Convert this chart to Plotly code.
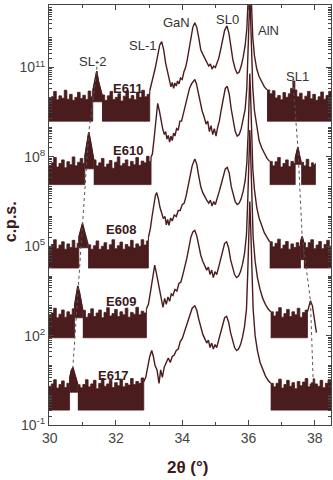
import numpy as np
import plotly.graph_objects as go

COLOR = '#4a1c1e'

# ---- data: (2theta, log10 c.p.s.) ----
E611_pts = [
    (29.98, 9.95), (30.05, 10.02), (30.12, 10.2), (30.2, 9.92), (30.28, 10.05), (30.36, 9.97), (30.44, 10.24),
    (30.52, 9.94), (30.6, 10.1), (30.68, 9.9), (30.76, 10.0), (30.84, 10.17), (30.92, 9.96), (31.0, 10.07),
    (31.08, 9.93), (31.16, 10.21), (31.24, 10.02), (31.3, 10.2),
    (31.36, 10.55), (31.42, 10.88), (31.47, 10.55), (31.52, 10.28), (31.58, 10.08),
    (31.66, 9.9), (31.74, 10.05), (31.82, 10.2), (31.9, 9.93), (31.98, 10.0), (32.06, 10.12), (32.14, 9.88),
    (32.22, 10.04), (32.3, 10.22), (32.38, 9.95), (32.46, 10.06), (32.54, 9.92), (32.62, 10.15), (32.7, 10.0),
    (32.78, 10.24), (32.86, 10.02), (32.94, 10.1), (33.02, 10.22),
    (33.1, 10.55), (33.18, 10.95), (33.26, 11.4), (33.32, 11.75), (33.38, 11.87), (33.44, 11.6), (33.5, 11.15),
    (33.56, 10.8), (33.62, 10.55), (33.66, 10.35), (33.7, 10.5), (33.74, 10.3), (33.78, 10.48), (33.82, 10.38),
    (33.86, 10.55), (33.9, 10.45), (33.95, 10.65), (34.0, 10.6), (34.05, 10.85), (34.1, 11.0), (34.15, 11.25),
    (34.2, 11.55), (34.26, 11.95), (34.32, 12.35), (34.38, 12.5), (34.44, 12.35), (34.5, 12.0), (34.56, 11.6),
    (34.62, 11.45), (34.68, 11.3), (34.74, 11.2), (34.8, 11.05), (34.85, 11.12), (34.9, 10.95), (34.95, 11.05),
    (35.0, 11.0), (35.05, 11.15), (35.1, 11.3), (35.16, 11.6), (35.22, 11.95), (35.28, 12.25), (35.35, 12.4),
    (35.41, 12.15), (35.47, 11.7), (35.53, 11.25), (35.6, 10.95), (35.66, 10.8), (35.72, 10.85), (35.78, 11.05),
    (35.84, 11.35), (35.9, 11.75), (35.95, 12.3), (35.99, 13.0), (36.02, 14.0), (36.04, 14.5), (36.06, 14.0),
    (36.09, 13.0), (36.13, 12.0), (36.18, 11.4), (36.25, 10.95), (36.32, 10.7), (36.4, 10.5), (36.48, 10.35),
    (36.56, 10.25),
    (36.64, 10.12), (36.72, 10.22), (36.8, 9.98), (36.88, 10.06), (36.96, 9.92), (37.04, 10.16), (37.12, 10.0),
    (37.2, 10.12), (37.27, 10.3), (37.34, 10.55), (37.4, 10.25), (37.46, 10.02), (37.54, 10.14), (37.62, 9.92),
    (37.7, 10.04), (37.78, 10.2), (37.86, 9.95), (37.94, 10.1), (38.02, 9.9), (38.1, 10.02), (38.18, 10.18),
    (38.26, 9.94), (38.34, 10.06), (38.42, 10.2), (38.49, 10.0),
]
E611_floor = 9.2
E611_fills = [(29.98, 31.3, 9.2), (31.3, 31.58, 9.85), (31.58, 33.02, 9.2), (36.56, 38.49, 9.2)]

E610_pts = [
    (29.98, 7.72), (30.05, 7.8), (30.12, 7.98), (30.2, 7.66), (30.28, 7.78), (30.36, 7.9), (30.44, 7.64),
    (30.52, 7.84), (30.6, 7.74), (30.68, 8.0), (30.76, 7.7), (30.84, 7.82), (30.92, 7.95), (31.0, 7.78),
    (31.06, 8.0),
    (31.12, 8.5), (31.18, 8.83), (31.23, 8.55), (31.28, 8.15), (31.33, 7.9),
    (31.4, 7.7), (31.48, 7.8), (31.56, 7.95), (31.64, 7.66), (31.72, 7.76), (31.8, 7.88), (31.88, 7.62),
    (31.96, 7.82), (32.04, 8.0), (32.12, 7.7), (32.2, 7.78), (32.28, 7.9), (32.36, 7.68), (32.44, 7.85),
    (32.52, 7.74), (32.6, 7.98), (32.68, 7.72), (32.76, 7.86), (32.84, 7.8), (32.92, 8.02), (33.0, 7.85),
    (33.06, 8.0),
    (33.1, 8.1), (33.15, 8.6), (33.2, 9.2), (33.26, 9.8), (33.31, 9.55), (33.36, 9.2), (33.41, 8.95),
    (33.46, 8.75), (33.5, 8.85), (33.54, 8.6), (33.58, 8.72), (33.62, 8.5), (33.66, 8.7), (33.7, 8.55),
    (33.74, 8.8), (33.78, 8.7), (33.83, 8.95), (33.88, 8.9), (33.93, 9.2), (33.98, 9.2), (34.04, 9.5),
    (34.1, 9.75), (34.16, 10.05), (34.22, 10.3), (34.28, 10.45), (34.33, 10.55), (34.38, 10.6), (34.43, 10.45),
    (34.49, 10.1), (34.55, 9.8), (34.6, 9.55), (34.66, 9.35), (34.72, 9.1), (34.77, 9.2), (34.82, 8.85),
    (34.87, 9.05), (34.92, 8.75), (34.97, 8.95), (35.02, 8.7), (35.07, 9.0), (35.12, 9.2), (35.18, 9.6),
    (35.24, 10.0), (35.3, 10.3), (35.36, 10.37), (35.42, 10.1), (35.48, 9.6), (35.54, 9.15), (35.6, 8.85),
    (35.66, 8.7), (35.72, 8.75), (35.78, 8.95), (35.84, 9.25), (35.9, 9.6), (35.95, 10.3), (35.99, 11.5),
    (36.02, 12.8), (36.04, 13.4), (36.06, 12.8), (36.09, 11.5), (36.13, 10.3), (36.18, 9.55), (36.25, 9.0),
    (36.32, 8.55), (36.4, 8.3), (36.48, 8.1), (36.56, 7.95), (36.64, 7.85),
    (36.72, 7.7), (36.8, 7.84), (36.88, 7.98), (36.96, 7.66), (37.04, 7.78), (37.12, 7.9), (37.2, 7.68),
    (37.28, 7.85), (37.36, 7.78), (37.41, 7.95), (37.45, 8.15), (37.49, 8.33), (37.54, 8.05), (37.59, 7.82),
    (37.66, 7.7), (37.74, 7.92), (37.82, 7.66), (37.9, 7.8), (37.96, 7.74), (38.02, 7.78),
]
E610_floor = 7.07
E610_fills = [(29.98, 31.06, 7.07), (31.06, 31.33, 7.6), (31.33, 33.06, 7.07),
              (36.64, 37.41, 7.07), (37.41, 37.59, 7.75), (37.59, 38.02, 7.07)]

E608_pts = [
    (29.98, 4.98), (30.05, 5.06), (30.12, 5.22), (30.2, 4.92), (30.28, 5.04), (30.36, 5.15), (30.44, 4.9),
    (30.52, 5.08), (30.6, 4.96), (30.68, 5.2), (30.76, 4.94), (30.83, 5.1), (30.88, 5.3),
    (30.94, 5.6), (30.99, 5.77), (31.04, 5.55), (31.1, 5.25), (31.16, 5.05),
    (31.24, 4.9), (31.32, 5.02), (31.4, 5.18), (31.48, 4.9), (31.56, 5.0), (31.64, 5.12), (31.72, 4.88),
    (31.8, 5.05), (31.88, 5.22), (31.96, 4.92), (32.04, 5.02), (32.12, 5.14), (32.2, 4.9), (32.28, 5.06),
    (32.36, 4.98), (32.44, 5.2), (32.52, 4.94), (32.6, 5.08), (32.68, 5.0), (32.76, 5.22), (32.84, 5.04),
    (32.92, 5.18), (32.98, 5.3),
    (33.04, 5.6), (33.09, 6.0), (33.14, 6.4), (33.19, 6.7), (33.23, 6.8), (33.28, 6.6), (33.33, 6.3),
    (33.38, 6.1), (33.43, 5.93), (33.48, 6.0), (33.52, 5.72), (33.56, 5.9), (33.6, 5.7), (33.65, 5.95),
    (33.7, 5.85), (33.76, 6.05), (33.82, 6.0), (33.88, 6.2), (33.94, 6.2), (34.0, 6.4), (34.06, 6.45),
    (34.12, 6.7), (34.18, 7.0), (34.24, 7.35), (34.3, 7.7), (34.38, 7.93), (34.44, 7.75), (34.5, 7.35),
    (34.56, 7.0), (34.62, 6.8), (34.68, 6.65), (34.74, 6.55), (34.8, 6.45), (34.85, 6.55), (34.9, 6.35),
    (34.95, 6.5), (35.0, 6.4), (35.06, 6.6), (35.12, 6.85), (35.18, 7.1), (35.24, 7.4), (35.3, 7.6),
    (35.36, 7.65), (35.42, 7.45), (35.48, 7.0), (35.54, 6.7), (35.6, 6.5), (35.66, 6.4), (35.72, 6.45),
    (35.78, 6.6), (35.84, 6.85), (35.9, 7.2), (35.95, 7.8), (35.99, 8.8), (36.02, 10.2), (36.04, 10.8),
    (36.06, 10.2), (36.09, 8.8), (36.13, 7.6), (36.18, 6.9), (36.25, 6.3), (36.32, 5.95), (36.4, 5.7),
    (36.48, 5.45), (36.56, 5.3), (36.64, 5.15),
    (36.72, 4.98), (36.8, 5.1), (36.88, 5.24), (36.96, 4.92), (37.04, 5.04), (37.12, 5.16), (37.2, 4.9),
    (37.28, 5.08), (37.36, 4.96), (37.44, 5.12), (37.52, 5.0), (37.57, 5.15), (37.62, 5.33), (37.67, 5.12),
    (37.72, 4.96), (37.8, 5.12), (37.88, 5.22), (37.96, 4.92), (38.04, 5.04), (38.12, 5.16), (38.2, 4.92),
    (38.28, 5.06), (38.36, 5.2), (38.44, 4.94), (38.49, 5.02),
]
E608_floor = 4.27
E608_fills = [(29.98, 30.88, 4.27), (30.88, 31.16, 4.95), (31.16, 32.98, 4.27),
              (36.64, 37.57, 4.27), (37.57, 37.67, 4.55), (37.67, 38.49, 4.27)]

E609_pts = [
    (29.98, 2.68), (30.05, 2.76), (30.12, 2.92), (30.2, 2.6), (30.28, 2.72), (30.36, 2.86), (30.44, 2.62),
    (30.52, 2.8), (30.6, 2.7), (30.68, 2.9), (30.75, 3.0),
    (30.8, 3.4), (30.85, 3.67), (30.9, 3.45), (30.95, 3.1), (31.0, 2.85),
    (31.08, 2.62), (31.16, 2.74), (31.24, 2.9), (31.32, 2.64), (31.4, 2.76), (31.48, 2.86), (31.56, 2.6),
    (31.64, 2.78), (31.72, 2.94), (31.8, 2.66), (31.88, 2.74), (31.96, 2.88), (32.04, 2.64), (32.12, 2.8),
    (32.2, 2.7), (32.28, 2.92), (32.36, 2.62), (32.44, 2.78), (32.52, 2.72), (32.6, 2.95), (32.68, 2.7),
    (32.76, 2.82), (32.84, 2.76), (32.92, 2.9),
    (32.98, 3.05), (33.04, 3.45), (33.1, 3.95), (33.17, 4.37), (33.22, 4.1), (33.27, 3.8), (33.32, 3.5),
    (33.37, 3.3), (33.42, 2.95), (33.47, 3.25), (33.52, 3.05), (33.57, 3.3), (33.62, 3.15), (33.67, 3.4),
    (33.72, 3.35), (33.78, 3.55), (33.84, 3.5), (33.9, 3.75), (33.96, 3.8), (34.02, 4.05), (34.08, 4.3),
    (34.14, 4.6), (34.2, 4.95), (34.26, 5.3), (34.32, 5.48), (34.38, 5.53), (34.44, 5.35), (34.5, 5.0),
    (34.56, 4.7), (34.62, 4.5), (34.68, 4.35), (34.74, 4.2), (34.79, 4.3), (34.84, 4.05), (34.89, 4.2),
    (34.94, 3.95), (34.99, 4.15), (35.04, 4.05), (35.1, 4.3), (35.16, 4.6), (35.22, 4.9), (35.28, 5.1),
    (35.34, 5.15), (35.4, 4.95), (35.46, 4.55), (35.52, 4.25), (35.58, 4.05), (35.64, 3.95), (35.7, 4.0),
    (35.76, 4.15), (35.82, 4.4), (35.88, 4.75), (35.94, 5.4), (35.98, 6.6), (36.02, 8.3), (36.04, 8.9),
    (36.06, 8.3), (36.1, 6.6), (36.14, 5.3), (36.2, 4.5), (36.27, 3.95), (36.35, 3.55), (36.43, 3.25),
    (36.51, 3.05), (36.59, 2.9), (36.67, 2.8),
    (36.75, 2.66), (36.83, 2.8), (36.91, 2.94), (36.99, 2.62), (37.07, 2.74), (37.15, 2.88), (37.23, 2.64),
    (37.31, 2.8), (37.39, 2.7), (37.47, 2.92), (37.55, 2.62), (37.63, 2.78), (37.71, 2.86), (37.78, 2.8),
    (37.82, 2.95), (37.87, 3.17), (37.93, 3.0), (37.98, 2.6), (38.05, 2.1),
]
E609_floor = 1.93
E609_fills = [(29.98, 30.75, 1.93), (30.75, 31.0, 2.6), (31.0, 32.92, 1.93), (36.67, 37.78, 1.93)]

E617_pts = [
    (29.98, 0.3), (30.05, 0.38), (30.12, 0.52), (30.2, 0.24), (30.28, 0.36), (30.36, 0.48), (30.44, 0.26),
    (30.52, 0.4), (30.6, 0.55),
    (30.65, 0.82), (30.7, 0.93), (30.75, 0.75), (30.8, 0.5), (30.85, 0.35),
    (30.92, 0.25), (31.0, 0.36), (31.08, 0.52), (31.16, 0.28), (31.24, 0.38), (31.32, 0.5), (31.4, 0.22),
    (31.48, 0.4), (31.56, 0.56), (31.64, 0.3), (31.72, 0.38), (31.8, 0.5), (31.88, 0.26), (31.96, 0.42),
    (32.04, 0.32), (32.12, 0.54), (32.2, 0.28), (32.28, 0.4), (32.36, 0.34), (32.44, 0.56), (32.52, 0.36),
    (32.6, 0.46), (32.68, 0.4), (32.76, 0.58), (32.84, 0.45),
    (32.9, 0.6), (32.96, 0.95), (33.02, 1.3), (33.08, 1.5), (33.13, 1.3), (33.18, 1.0), (33.24, 0.85),
    (33.3, 0.4), (33.35, 0.85), (33.4, 0.6), (33.46, 0.95), (33.52, 1.1), (33.58, 1.25), (33.64, 1.1),
    (33.7, 1.3), (33.76, 1.35), (33.82, 1.5), (33.88, 1.55), (33.94, 1.8), (34.0, 1.9), (34.06, 2.1),
    (34.12, 2.3), (34.18, 2.5), (34.24, 2.75), (34.3, 2.92), (34.38, 3.0), (34.44, 2.85), (34.5, 2.55),
    (34.56, 2.25), (34.62, 2.05), (34.68, 1.9), (34.74, 1.75), (34.79, 1.85), (34.84, 1.6), (34.89, 1.75),
    (34.94, 1.55), (34.99, 1.7), (35.04, 1.6), (35.1, 1.85), (35.16, 2.1), (35.22, 2.4), (35.28, 2.6),
    (35.34, 2.65), (35.4, 2.45), (35.46, 2.1), (35.52, 1.8), (35.58, 1.6), (35.64, 1.5), (35.7, 1.55),
    (35.76, 1.7), (35.82, 1.95), (35.88, 2.3), (35.94, 2.9), (35.98, 4.2), (36.02, 5.9), (36.04, 6.5),
    (36.06, 5.9), (36.1, 4.2), (36.14, 2.9), (36.2, 2.0), (36.27, 1.5), (36.35, 1.1), (36.43, 0.85),
    (36.51, 0.65), (36.59, 0.5), (36.67, 0.4),
    (36.75, 0.28), (36.83, 0.4), (36.91, 0.54), (36.99, 0.24), (37.07, 0.36), (37.15, 0.5), (37.23, 0.3),
    (37.31, 0.42), (37.39, 0.22), (37.47, 0.46), (37.55, 0.32), (37.63, 0.44), (37.71, 0.56), (37.79, 0.28),
    (37.86, 0.38), (37.9, 0.42), (37.95, 0.55), (38.0, 0.38), (38.08, 0.3), (38.16, 0.5), (38.24, 0.25),
    (38.32, 0.4), (38.4, 0.52), (38.49, 0.35),
]
E617_floor = -0.5
E617_fills = [(29.98, 30.6, -0.5), (30.6, 30.85, 0.1), (30.85, 32.84, -0.5), (36.67, 38.49, -0.5)]

samples = [
    ('E611', E611_pts, E611_floor, E611_fills, 32.36, 10.30),
    ('E610', E610_pts, E610_floor, E610_fills, 32.36, 8.20),
    ('E608', E608_pts, E608_floor, E608_fills, 32.15, 5.57),
    ('E609', E609_pts, E609_floor, E609_fills, 32.15, 3.13),
    ('E617', E617_pts, E617_floor, E617_fills, 31.90, 0.67),
]

# superlattice guide lines (peak positions, log10 cps)
SLm2_x = [31.43, 31.42, 31.18, 30.99, 30.85, 30.70]
SLm2_log = [11.23, 10.88, 8.83, 5.77, 3.67, 0.93]
SL1_x = [37.34, 37.49, 37.62, 37.87, 37.95]
SL1_log = [10.55, 8.33, 5.33, 3.17, 0.55]

peak_labels = [('SL-2', 31.30, 11.20), ('SL-1', 32.81, 11.73), ('GaN', 33.84, 12.50),
               ('SL0', 35.38, 12.63), ('AlN', 36.59, 12.23), ('SL1', 37.49, 10.70)]

FONT = 'Liberation Sans, Arial, sans-serif'
fig = go.Figure()

for name, pts, floor, fills, lx, ly in samples:
    x = np.array([p[0] for p in pts])
    v = np.array([p[1] for p in pts])
    y = 10.0 ** v
    yline = y.copy()
    for a, b, bottom in fills:
        m = (x >= a - 1e-9) & (x <= b + 1e-9)
        is_block = abs(bottom - floor) < 1e-9
        if is_block:
            yline[(x > a + 1e-9) & (x < b - 1e-9)] = np.nan
        px = list(x[m]) + [x[m][-1], x[m][0]]
        py = list(y[m]) + [10.0 ** bottom, 10.0 ** bottom]
        fig.add_trace(go.Scatter(x=px, y=py, mode='lines', fill='toself', fillcolor=COLOR,
                                 line=dict(width=0.8, color=COLOR, shape='hv' if is_block else 'linear'),
                                 hoverinfo='skip', showlegend=False))
    fig.add_trace(go.Scatter(x=x, y=yline, mode='lines', connectgaps=False,
                             line=dict(color=COLOR, width=1.4), name=name, showlegend=False))
    fig.add_annotation(x=lx, y=ly, text='<b>' + name + '</b>', showarrow=False,
                       xanchor='center', yanchor='middle',
                       font=dict(family=FONT, size=13, color='#3a1a1a'))

for gx, gv in ((SLm2_x, SLm2_log), (SL1_x, SL1_log)):
    fig.add_trace(go.Scatter(x=gx, y=[10.0 ** t for t in gv], mode='lines',
                             line=dict(color='#555', width=1, dash='3px,3px'),
                             hoverinfo='skip', showlegend=False))

for txt, px_, pv in peak_labels:
    fig.add_annotation(x=px_, y=pv, text=txt, showarrow=False, xanchor='center', yanchor='middle',
                       font=dict(family=FONT, size=13, color='#333'))

# axis titles
fig.add_annotation(xref='paper', yref='paper', x=0.493, y=-0.102, text='<b>2θ (°)</b>',
                   xanchor='center', yanchor='middle',
                   showarrow=False, font=dict(family=FONT, size=17, color='#3a1a1a'))
fig.add_annotation(xref='paper', yref='paper', x=-0.138, y=0.483, text='<b>c.p.s.</b>', textangle=-90,
                   xanchor='center', yanchor='middle',
                   showarrow=False, font=dict(family=FONT, size=16, color='#3a1a1a'))

label_decades = [-1, 2, 5, 8, 11]
ytickvals = [10.0 ** k for k in label_decades]
ytext = ['10<sup>%d</sup>' % k for k in label_decades]
yminor = [m * 10.0 ** k for k in range(-1, 14) for m in range(1, 10)
          if not (m == 1 and k in label_decades)]

fig.update_layout(
    width=333, height=480,
    margin=dict(l=49, r=2, t=5, b=55),
    paper_bgcolor='white', plot_bgcolor='white',
    font=dict(family=FONT, size=14, color='#444'),
    xaxis=dict(range=[29.98, 38.49], tickmode='array', tickvals=[30, 32, 34, 36, 38],
               ticks='inside', ticklen=5, tickcolor='#444', showline=True, linecolor='#444', linewidth=1,
               mirror='ticks', showgrid=False, zeroline=False,
               minor=dict(tickmode='array', tickvals=[31, 33, 35, 37], ticks='inside', ticklen=3,
                          tickcolor='#444', showgrid=False),
               tickfont=dict(size=14, color='#444')),
    yaxis=dict(type='log', range=[-1.0, 13.1], tickmode='array', tickvals=ytickvals, ticktext=ytext,
               ticks='inside', ticklen=5, tickcolor='#444', showline=True, linecolor='#444', linewidth=1,
               mirror='ticks', showgrid=False, zeroline=False,
               minor=dict(tickmode='array', tickvals=yminor, ticks='inside', ticklen=3,
                          tickcolor='#444', showgrid=False),
               tickfont=dict(size=14, color='#444')),
)

fig.write_html('out.html')
